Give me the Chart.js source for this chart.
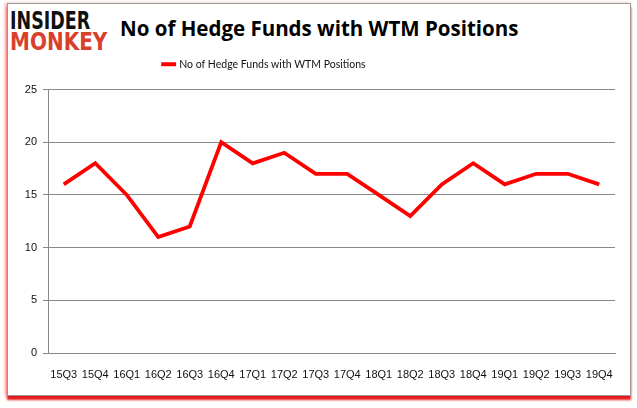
<!DOCTYPE html>
<html>
<head>
<meta charset="utf-8">
<script src="https://cdn.jsdelivr.net/npm/chart.js@4/dist/chart.umd.min.js"></script>
<style>
body{margin:0;background:#fff;width:637px;height:408px;overflow:hidden;position:relative;font-family:"Liberation Sans",Arial,sans-serif}
#frame{position:absolute;left:7px;top:3px;width:622px;height:391px;border:1px solid #9a9a9a;background:#fff;
box-shadow:0 4px 2px rgba(230,0,0,0.9),-2px 0 3px rgba(240,120,120,0.6)}
.logo{position:absolute;left:10px;font-family:"DejaVu Sans",sans-serif;font-weight:bold;font-size:25px;line-height:25px;white-space:nowrap;transform-origin:left top}
#l1{top:8px;color:#111;transform:scaleX(0.7)}
#l2{top:29px;color:#d9402b;transform:scaleX(0.8)}
#title{position:absolute;left:120px;top:14px;font-family:"Open Sans",sans-serif;font-weight:bold;font-size:20.5px;color:#000;white-space:nowrap}
#wrap{position:absolute;left:0;top:0;width:637px;height:408px}
</style>
</head>
<body>
<div id="frame"></div>
<div class="logo" id="l1">INSIDER</div>
<div class="logo" id="l2">MONKEY</div>
<div id="title">No of Hedge Funds with WTM Positions</div>
<div id="wrap"><canvas id="chart" width="637" height="408"></canvas></div>
<script>

const quarters = ["15Q3","15Q4","16Q1","16Q2","16Q3","16Q4","17Q1","17Q2","17Q3","17Q4","18Q1","18Q2","18Q3","18Q4","19Q1","19Q2","19Q3","19Q4"]
const funds = [16,18,15,11,12,20,18,19,17,17,15,13,16,18,16,17,17,16]
const seriesName = "No of Hedge Funds with WTM Positions"
const yTicks = [0,5,10,15,20,25]

const tickFont = {family:"Liberation Sans", size:11}

// push the plot down below the legend, and the legend a bit left
const legendGap = {
id:"legendGap",
beforeInit(chart){
const fit = chart.legend.fit
chart.legend.fit = function(){
fit.bind(chart.legend)()
this.height += 10
}
},
afterLayout(chart){
chart.legend.right -= 96
}
}

new Chart(document.getElementById("chart"),{

type:"line",

data:{
labels:quarters,
datasets:[{
label:seriesName,
data:funds,
borderColor:"#ff0000",
backgroundColor:"#ff0000",
borderWidth:3.8,
pointRadius:0,
tension:0,
fill:false
}]
},

options:{
responsive:false,
animation:false,
layout:{padding:{left:10,right:22,top:45,bottom:13}},
plugins:{
legend:{
display:true,
labels:{
usePointStyle:true,
pointStyle:"line",
boxWidth:22,
color:"#111",
font:{family:"Lato",size:10.5},
padding:14
}
},
tooltip:{enabled:false}
},
scales:{
x:{
offset:true,
grid:{display:false,drawOnChartArea:false,tickLength:5,color:"#888",offset:true},
border:{color:"#888"},
ticks:{color:"#111",font:tickFont,maxRotation:0,autoSkip:false,padding:10},
afterFit:s=>{s.height=42}
},
y:{
min:0,
max:25,
afterBuildTicks:s=>{s.ticks=yTicks.map(v=>({value:v}))},
grid:{color:"#888",tickLength:5},
border:{color:"#888"},
ticks:{color:"#111",font:tickFont,padding:6},
afterFit:s=>{s.width=38}
}
}
},

plugins:[legendGap]

})

</script>
</body>
</html>
